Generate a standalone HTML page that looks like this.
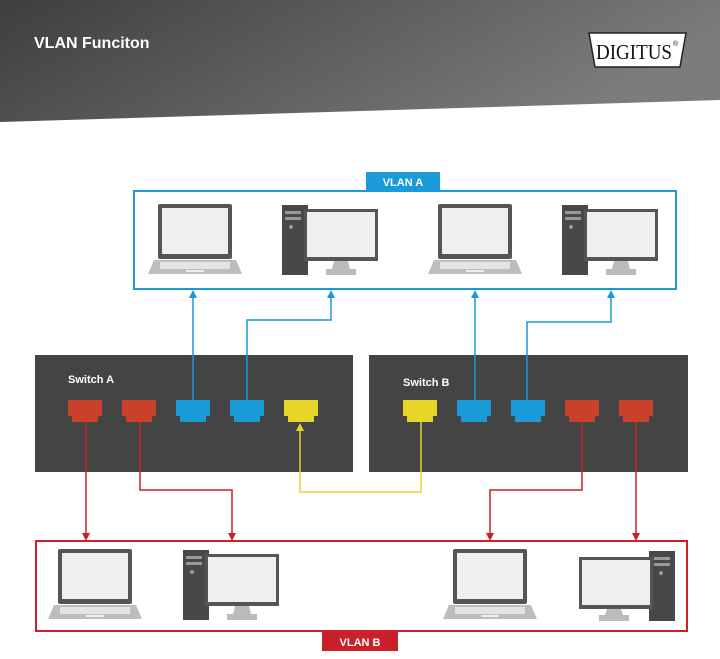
<!DOCTYPE html>
<html><head><meta charset="utf-8"><style>
body{margin:0;width:720px;height:654px;overflow:hidden;background:#fff;font-family:"Liberation Sans",sans-serif}
</style></head><body>
<svg width="720" height="654" viewBox="0 0 720 654" xmlns="http://www.w3.org/2000/svg">
<defs>
<linearGradient id="hg" x1="0" y1="0" x2="1" y2="0.3">
<stop offset="0" stop-color="#3e3e3e"/><stop offset="1" stop-color="#7c7c7c"/></linearGradient>
<g id="lap">
<rect x="10" y="0" width="74" height="55" rx="2" fill="#555"/>
<rect x="14" y="4" width="66" height="46" fill="#efefef"/>
<path d="M6 56 H88 L94 70 H0 Z" fill="#bdbdbd"/>
<rect x="12" y="58" width="70" height="7" fill="#e4e4e4"/>
<rect x="38" y="66" width="18" height="2" fill="#eee"/>
</g>
<g id="desk">
<rect x="0" y="0" width="26" height="70" fill="#484848"/>
<rect x="3" y="6" width="16" height="3" fill="#999"/>
<rect x="3" y="12" width="16" height="3" fill="#999"/>
<circle cx="9" cy="22" r="2" fill="#999"/>
<rect x="22" y="4" width="74" height="52" fill="#555"/>
<rect x="25" y="7" width="68" height="45" fill="#efefef"/>
<path d="M52 56 H66 L68 64 H74 V70 H44 V64 H50 Z" fill="#bbb"/>
</g>
<g id="deskR">
<rect x="70" y="0" width="26" height="70" fill="#484848"/>
<rect x="75" y="6" width="16" height="3" fill="#999"/>
<rect x="75" y="12" width="16" height="3" fill="#999"/>
<circle cx="82" cy="22" r="2" fill="#999"/>
<rect x="0" y="6" width="74" height="52" fill="#555"/>
<rect x="3" y="9" width="68" height="45" fill="#efefef"/>
<path d="M28 58 H42 L44 64 H50 V70 H20 V64 H26 Z" fill="#bbb"/>
</g>
<path id="port" d="M0 0 H34 V16 H30 V22 H4 V16 H0 Z"/>
</defs>
<path d="M0 0 H720 V100 L0 122 Z" fill="url(#hg)"/>
<text x="34" y="48" font-size="16" font-weight="bold" fill="#fff">VLAN Funciton</text>
<path d="M589 33 H686 L680 67 H595 Z" fill="#fff" stroke="#222" stroke-width="1.5"/>
<text x="596" y="59" font-family="Liberation Serif,serif" font-size="21" fill="#111" textLength="76" lengthAdjust="spacingAndGlyphs">DIGITUS</text>
<text x="673" y="46" font-size="7" fill="#111">®</text>

<rect x="134" y="191" width="542" height="98" fill="none" stroke="#1a9bd7" stroke-width="2"/>
<rect x="366" y="172" width="74" height="19" fill="#1a9bd7"/>
<text x="403" y="186" font-size="11" font-weight="bold" fill="#fff" text-anchor="middle">VLAN A</text>
<use href="#lap" x="148" y="204"/><use href="#desk" x="282" y="205"/>
<use href="#lap" x="428" y="204"/><use href="#desk" x="562" y="205"/>

<rect x="35" y="355" width="318" height="117" fill="#444"/>
<rect x="369" y="355" width="319" height="117" fill="#444"/>
<text x="68" y="383" font-size="11" font-weight="bold" fill="#fff">Switch A</text>
<text x="403" y="386" font-size="11" font-weight="bold" fill="#fff">Switch B</text>
<g fill="#c9412a"><use href="#port" x="68" y="400"/><use href="#port" x="122" y="400"/><use href="#port" x="565" y="400"/><use href="#port" x="619" y="400"/></g>
<g fill="#1a9bd7"><use href="#port" x="176" y="400"/><use href="#port" x="230" y="400"/><use href="#port" x="457" y="400"/><use href="#port" x="511" y="400"/></g>
<g fill="#e7d52a"><use href="#port" x="284" y="400"/><use href="#port" x="403" y="400"/></g>

<g fill="none" stroke="#1a9bd7" stroke-width="1.5">
<path d="M193 400 V294"/><path d="M247 400 V320 H331 V294"/>
<path d="M475 400 V294"/><path d="M527 400 V322 H611 V294"/>
</g>
<g fill="#1a9bd7"><path d="M189 298 L193 290 L197 298Z"/><path d="M327 298 L331 290 L335 298Z"/><path d="M471 298 L475 290 L479 298Z"/><path d="M607 298 L611 290 L615 298Z"/></g>
<path d="M421 422 V492 H300 V428" fill="none" stroke="#e7d52a" stroke-width="1.5"/>
<path d="M296 431 L300 423 L304 431Z" fill="#e7d52a"/>
<g fill="none" stroke="#c9202a" stroke-width="1.5">
<path d="M86 422 V534"/><path d="M140 422 V490 H232 V534"/>
<path d="M582 422 V490 H490 V534"/><path d="M636 422 V534"/>
</g>
<g fill="#c9202a"><path d="M82 533 L86 541 L90 533Z"/><path d="M228 533 L232 541 L236 533Z"/><path d="M486 533 L490 541 L494 533Z"/><path d="M632 533 L636 541 L640 533Z"/></g>

<rect x="36" y="541" width="651" height="90" fill="none" stroke="#c9202a" stroke-width="2"/>
<rect x="322" y="631" width="76" height="20" fill="#c9202a"/>
<text x="360" y="646" font-size="11" font-weight="bold" fill="#fff" text-anchor="middle">VLAN B</text>
<use href="#lap" x="48" y="549"/><use href="#desk" x="183" y="550"/>
<use href="#lap" x="443" y="549"/><use href="#deskR" x="579" y="551"/>
</svg>
</body></html>
